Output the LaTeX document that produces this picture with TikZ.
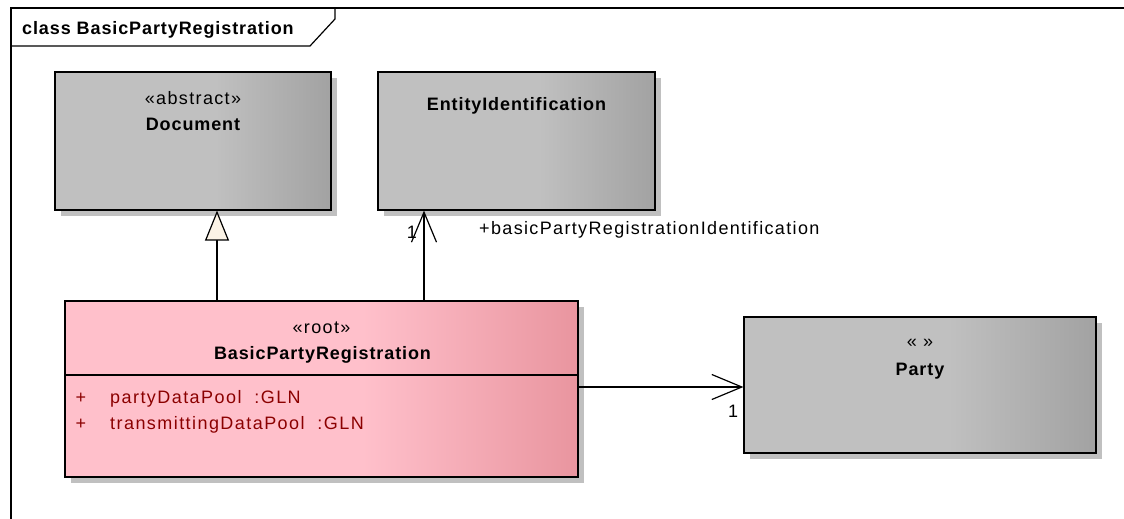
\documentclass[tikz,border=0pt]{standalone}
\usepackage{fontspec}
\setmainfont{Liberation Sans}[LetterSpace=7.5, BoldFeatures={LetterSpace=5}]
\usetikzlibrary{arrows.meta, shadows}
\definecolor{gA}{HTML}{C0C0C0}
\definecolor{gB}{HTML}{A2A2A2}
\definecolor{pA}{HTML}{FFC0CB}
\definecolor{pB}{HTML}{E9959F}
\definecolor{shadowc}{HTML}{C0C0C0}
\definecolor{cream}{HTML}{FBF3E6}
\definecolor{attrred}{HTML}{8B0000}
\pgfdeclarehorizontalshading{grayshade}{100bp}{color(0bp)=(gA); color(25bp)=(gA); color(54bp)=(gA); color(75bp)=(gB); color(100bp)=(gB)}
\pgfdeclarehorizontalshading{pinkshade}{100bp}{color(0bp)=(pA); color(25bp)=(pA); color(54bp)=(pA); color(75bp)=(pB); color(100bp)=(pB)}
\tikzset{
  boxbase/.style={draw=black, line width=1.2pt, inner sep=0pt, shade,
    drop shadow={shadow xshift=6pt, shadow yshift=-6pt, fill=shadowc, opacity=1}},
  graybox/.style={boxbase, shading=grayshade},
  pinkbox/.style={boxbase, shading=pinkshade},
  txt/.style={inner sep=0pt, anchor=base, font=\fontsize{18}{21}\selectfont},
  btxt/.style={txt, font=\fontsize{18}{21}\selectfont\bfseries},
  atxt/.style={txt, anchor=base west, text=attrred, font=\fontsize{18}{21}\selectfont\addfontfeatures{LetterSpace=8}},
  frameline/.style={draw=black, line width=1.2pt},
  conn/.style={draw=black, line width=1.2pt},
  gen/.style={conn, -{Triangle[length=30pt, width=24pt, fill=cream]}},
  assoc/.style={conn, -{Straight Barb[length=30pt, width=25pt]}}
}
\begin{document}
\begin{tikzpicture}[x=1pt, y=-1pt]
\useasboundingbox (0,0) rectangle (1124,519);
% frame
\draw[frameline] (11,519) -- (11,8) -- (1124,8);
\draw[frameline] (11,46) -- (310,46) -- (335,19) -- (335,8);
\node[btxt, anchor=base west, font=\fontsize{18}{21}\selectfont\bfseries\addfontfeatures{LetterSpace=6.5}] (title) at (22,35) {class BasicPartyRegistration};
% classes
\node[graybox, minimum width=276pt, minimum height=138pt] (doc) at (193,141) {};
\node[txt] (docst) at (193,104) {«abstract»};
\node[btxt] (docname) at (193,130) {Document};

\node[graybox, minimum width=277pt, minimum height=138pt] (ent) at (516.5,141) {};
\node[btxt] (entname) at (516.5,110) {EntityIdentification};

\node[pinkbox, minimum width=513pt, minimum height=176pt] (root) at (321.5,389) {};
\node[txt] (rootst) at (321.5,333) {«root»};
\node[btxt] (rootname) at (322.5,359) {BasicPartyRegistration};
\draw[conn] (root.west |- 0,375) coordinate (cl) -- (root.east |- 0,375) coordinate (cr);
\node[atxt, anchor=base] (p1) at (81,403) {+};
\node[atxt] (a1) at (110,403) {partyDataPool\ \ :GLN};
\node[atxt, anchor=base] (p2) at (81,429) {+};
\node[atxt] (a2) at (110,429) {transmittingDataPool\ \ :GLN};

\node[graybox, minimum width=352pt, minimum height=136pt] (party) at (920,385) {};
\node[txt] (partyst) at (920,347) {« »};
\node[btxt] (partyname) at (920,375) {Party};

% connectors
\draw[gen] (root.north -| 217,0) -- (doc.south -| 217,0);
\draw[assoc] (root.north -| 424,0) -- (ent.south -| 424,0);
\draw[assoc] (root.east |- 0,387) -- (party.west |- 0,387);
% labels
\node[txt] (m1) at (412,238) {1};
\node[txt, anchor=base west] (role) at (479,234) {+basicPartyRegistrationIdentification};
\node[txt] (m2) at (733,417) {1};
\end{tikzpicture}
\end{document}
